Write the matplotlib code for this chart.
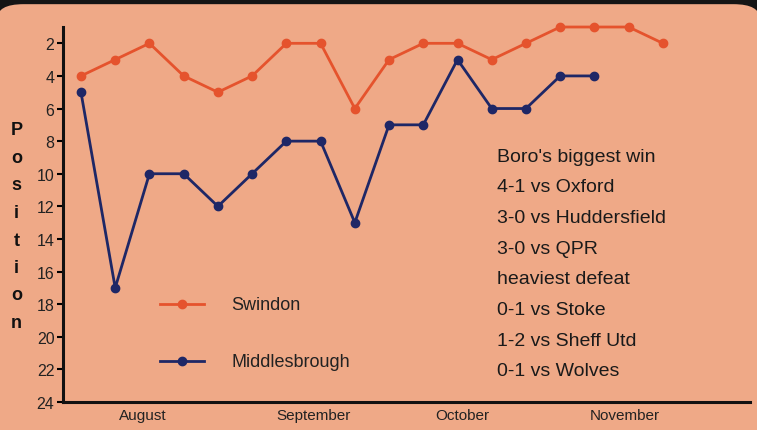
import matplotlib
matplotlib.use("Agg")
import matplotlib.pyplot as plt
from matplotlib.patches import FancyBboxPatch

plt.rcParams['font.family'] = ['Liberation Sans', 'DejaVu Sans']

# league positions, week by week
swindon = [4, 3, 2, 4, 5, 4, 2, 2, 6, 3, 2, 2, 3, 2, 1, 1, 1, 2]
boro = [5, 17, 10, 10, 12, 10, 8, 8, 13, 7, 7, 3, 6, 6, 4, 4]
months = ["August", "September", "October", "November"]
month_pos = [1.8, 6.8, 11.15, 15.9]
yticks = list(range(2, 25, 2))
notes = ["Boro's biggest win", "4-1 vs Oxford", "3-0 vs Huddersfield", "3-0 vs QPR",
         "heaviest defeat", "0-1 vs Stoke", "1-2 vs Sheff Utd", "0-1 vs Wolves"]

bg = '#EFA987'
orange = '#E5532D'
blue = '#1E2766'

fig = plt.figure(figsize=(7.57, 4.31), dpi=100, facecolor='#151515')
fig.patches.append(FancyBboxPatch((-0.004, -0.1), 1.008, 1.088, boxstyle="round,pad=0,rounding_size=0.035",
                                  transform=fig.transFigure, facecolor=bg, edgecolor='none', zorder=-10))
ax = fig.add_axes([0.083, 0.065, 0.908, 0.87])
ax.set_facecolor('none')

ax.plot(range(len(swindon)), swindon, color=orange, lw=2, marker='o', ms=6, clip_on=False)
ax.plot(range(len(boro)), boro, color=blue, lw=2, marker='o', ms=6, clip_on=False)

ax.set_ylim(24, 1)
ax.set_xlim(-0.53, 19.55)
ax.set_yticks(yticks)
ax.set_yticklabels([str(t) for t in yticks], fontsize=11.5, color='#222222')
ax.set_xticks(month_pos)
ax.set_xticklabels(months, fontsize=11, color='#222222')
ax.tick_params(axis='x', length=0, pad=4)
ax.tick_params(axis='y', length=4, width=1.5, direction='out', pad=2)
for s in ['top', 'right']:
    ax.spines[s].set_visible(False)
for s in ['left', 'bottom']:
    ax.spines[s].set_linewidth(2.2)
    ax.spines[s].set_color('#111111')

# stacked axis title
for i, ch in enumerate("Position"):
    fig.text(0.022, 1 - (131 + i * 27.5) / 431, ch, fontsize=13, fontweight='bold',
             ha='center', va='center', color='#111111')

# legend drawn by hand
ax.plot([2.3, 3.6], [18, 18], color=orange, lw=2)
ax.plot([2.95], [18], color=orange, marker='o', ms=6)
ax.text(4.4, 18, "Swindon", fontsize=13, va='center', color='#222222')
ax.plot([2.3, 3.6], [21.5, 21.5], color=blue, lw=2)
ax.plot([2.95], [21.5], color=blue, marker='o', ms=6)
ax.text(4.4, 21.5, "Middlesbrough", fontsize=13, va='center', color='#222222')

for i, line in enumerate(notes):
    fig.text(497 / 757, 1 - (157 + i * 30.7) / 431, line, fontsize=14, va='center', color='#1a1a1a')

fig.savefig("out.png", dpi=100, facecolor=fig.get_facecolor())
